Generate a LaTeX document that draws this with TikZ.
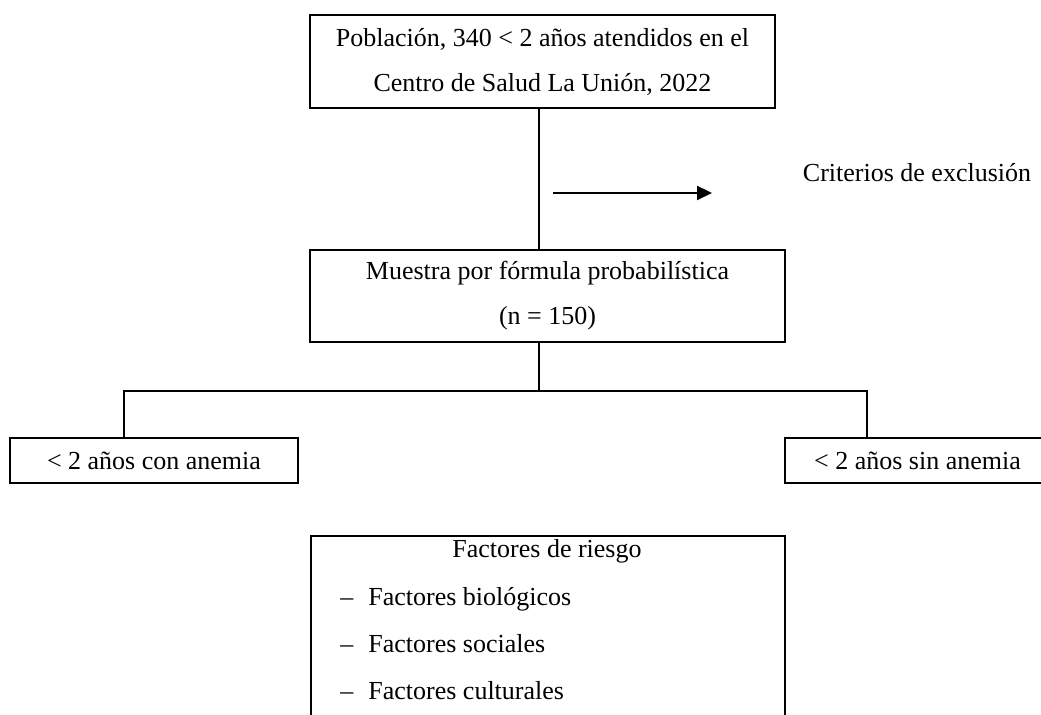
\documentclass[tikz,border=0pt]{standalone}
\usepackage{fontspec}
\setmainfont{Liberation Serif}
\usetikzlibrary{arrows.meta}
\begin{document}
\begin{tikzpicture}[x=0.5pt,y=-0.5pt,
  box/.style={draw,line width=1.1pt,inner sep=0pt,align=center,font=\fontsize{13}{22.5}\selectfont},
  conn/.style={line width=1.1pt},
  lbl/.style={inner sep=0pt,font=\fontsize{13}{16}\selectfont}]
\clip (0,0) rectangle (1041,715);
\node[box,minimum width=232.5pt,minimum height=46.5pt] (pop) at (542.5,61.5)
  {Población, 340 < 2 años atendidos en el\\Centro de Salud La Unión, 2022};
\node[box,minimum width=237.5pt,minimum height=46pt] (mue) at (547.5,296)
  {Muestra por fórmula probabilística\\(n = 150)};
\node[box,minimum width=144pt,minimum height=22.5pt] (con) at (154,460.5) {< 2 años con anemia};
\node[box,minimum width=132.5pt,minimum height=22.5pt] (sin) at (917.5,460.5) {< 2 años sin anemia};
\node[box,minimum width=237pt,minimum height=120pt,anchor=north west] (fac) at (310,535) {};
\node[lbl,anchor=base] (fr) at (547,558) {Factores de riesgo};
\node[lbl,anchor=base west] (f1) at (340,606) {\makebox[14pt][l]{–}Factores biológicos};
\node[lbl,anchor=base west] (f2) at (340,653) {\makebox[14pt][l]{–}Factores sociales};
\node[lbl,anchor=base west] (f3) at (340,700) {\makebox[14pt][l]{–}Factores culturales};
\node[lbl,anchor=base] (crit) at (917,182) {Criterios de exclusión};
\coordinate (a1) at (553,193);
\coordinate (a2) at (712,193);
\draw[conn,-{Triangle[length=7.5pt,width=7pt]}] (a1) -- (a2);
\coordinate (vx) at (539,0);
\draw[conn] (pop.south -| vx) -- (mue.north -| vx);
\coordinate (bl) at (124,391);
\coordinate (br) at (867,391);
\draw[conn] (mue.south -| vx) -- (vx |- bl);
\draw[conn] (con.north -| bl) -- (bl) -- (br) -- (sin.north -| br);
\end{tikzpicture}
\end{document}
